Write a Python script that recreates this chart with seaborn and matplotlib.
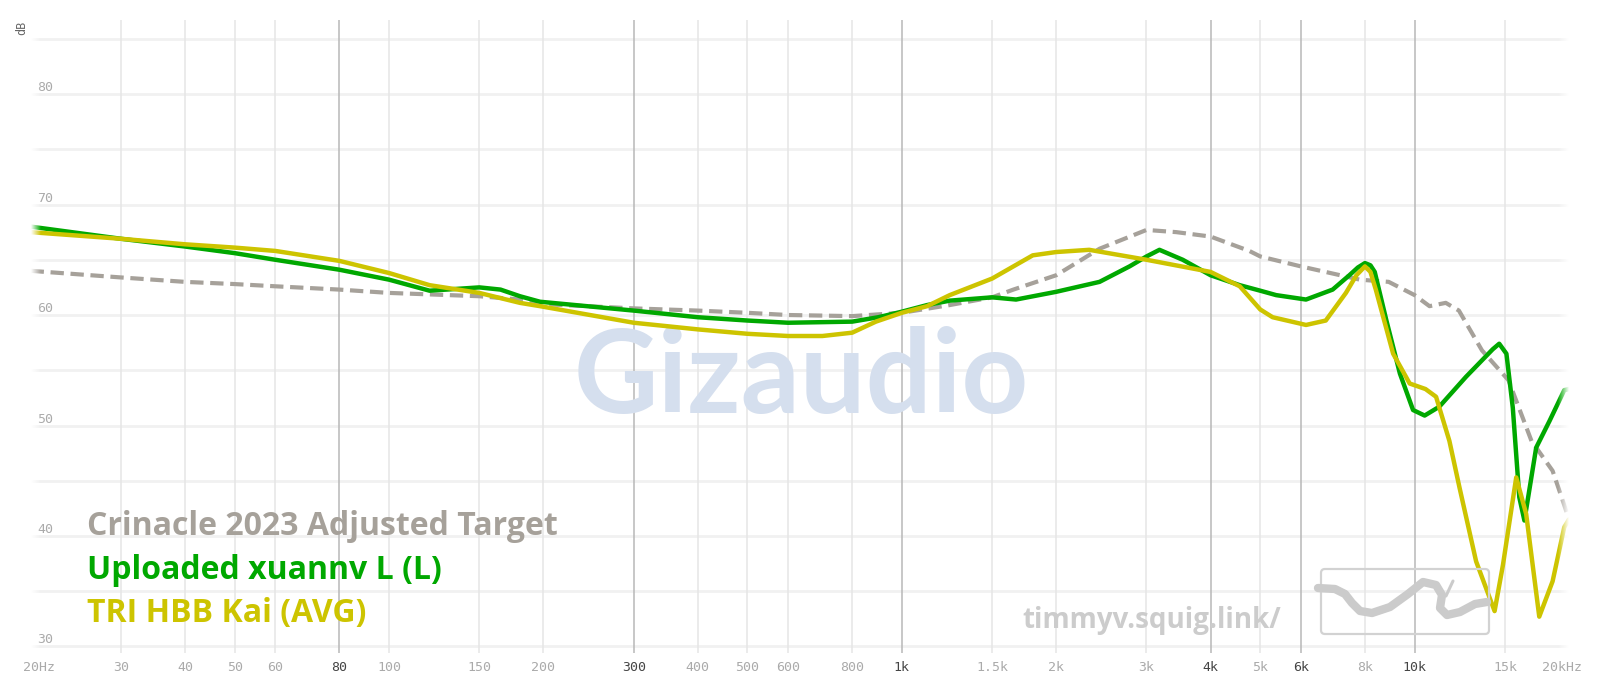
import numpy as np
import matplotlib
matplotlib.use("Agg")
import matplotlib.pyplot as plt
from matplotlib.patches import FancyBboxPatch
from matplotlib.transforms import ScaledTranslation
import seaborn as sns

# target curve (gray dashed)
target_freq = [20, 30, 40, 50, 60, 80, 100, 150, 180, 197, 300, 400, 500, 600, 800, 1000,
               1240, 1500, 1650, 2000, 2430, 3000, 3430, 4000, 4760, 5000, 6000, 7820, 8900,
               10000, 10690, 11500, 12200, 13530, 15240, 16900, 18580, 19350, 20000]
target_db = [64.0, 63.4, 63.0, 62.8, 62.6, 62.3, 62.0, 61.7, 61.4, 61.0, 60.6, 60.4, 60.2, 60.0, 59.9, 60.2,
             60.9, 61.6, 62.3, 63.6, 66.0, 67.7, 67.5, 67.1, 65.8, 65.3, 64.4, 63.2, 63.0,
             61.8, 60.8, 61.1, 60.4, 56.8, 54.1, 48.6, 45.9, 43.5, 41.5]

# Uploaded xuannv L (L)
xuannv_freq = [20, 30, 40, 50, 60, 80, 100, 120, 150, 165, 180, 197, 300, 400, 500, 600, 800, 900,
               1000, 1120, 1240, 1500, 1670, 2000, 2430, 2780, 3000, 3180, 3530, 4000, 4560, 5000,
               5370, 6140, 6920, 7460, 7750, 8000, 8200, 8360, 8810, 9360, 9930, 10460, 11170, 12590,
               14200, 14620, 15100, 15540, 16000, 16370, 17260, 18320, 19580, 20000]
xuannv_db = [68.0, 66.9, 66.2, 65.6, 65.0, 64.1, 63.2, 62.2, 62.5, 62.3, 61.7, 61.2, 60.4, 59.8, 59.5, 59.3, 59.4, 59.8,
             60.3, 60.9, 61.3, 61.6, 61.4, 62.1, 63.0, 64.4, 65.3, 65.9, 65.0, 63.6, 62.7, 62.2,
             61.8, 61.4, 62.3, 63.6, 64.3, 64.7, 64.5, 63.9, 59.5, 54.7, 51.4, 50.9, 51.7, 54.4,
             56.9, 57.4, 56.5, 51.6, 43.5, 41.4, 48.0, 50.4, 53.2, 53.3]

# TRI HBB Kai (AVG)
kai_freq = [20, 30, 40, 50, 60, 80, 100, 120, 150, 180, 197, 300, 400, 500, 600, 700, 800, 890,
            1000, 1120, 1240, 1500, 1800, 2000, 2320, 3000, 4000, 4560, 5000, 5285, 6140, 6710,
            7345, 7700, 8000, 8200, 8400, 9080, 9780, 10500, 11010, 11690, 12230, 13180, 14320, 14870,
            15780, 16500, 17500, 18580, 19580, 20000]
kai_db = [67.5, 66.9, 66.4, 66.1, 65.8, 64.9, 63.8, 62.7, 62.0, 61.1, 60.8, 59.3, 58.7, 58.3, 58.1, 58.1, 58.4, 59.4,
          60.2, 60.8, 61.8, 63.3, 65.4, 65.7, 65.9, 65.0, 63.9, 62.6, 60.5, 59.8, 59.1, 59.5,
          62.0, 63.6, 64.4, 63.9, 62.3, 56.5, 53.8, 53.3, 52.6, 48.6, 44.4, 37.7, 33.2, 37.4,
          45.3, 42.0, 32.7, 35.9, 40.8, 41.5]

x_ticks = [20, 30, 40, 50, 60, 80, 100, 150, 200, 300, 400, 500, 600, 800, 1000,
           1500, 2000, 3000, 4000, 5000, 6000, 8000, 10000, 15000, 20000]
x_labels = ["20Hz", "30", "40", "50", "60", "80", "100", "150", "200", "300", "400", "500", "600", "800", "1k",
            "1.5k", "2k", "3k", "4k", "5k", "6k", "8k", "10k", "15k", "20kHz"]
dark_ticks = [80, 300, 1000, 4000, 6000, 10000]
y_labels = [30, 40, 50, 60, 70, 80]
y_grid = [30, 35, 40, 45, 50, 55, 60, 65, 70, 75, 80, 85]

names = ["Crinacle 2023 Adjusted Target", "Uploaded xuannv L (L)", "TRI HBB Kai (AVG)"]
colors = ["#a6a19a", "#00a800", "#cdc400"]

sns.set_style("white")
plt.rcParams["font.family"] = ["Open Sans", "DejaVu Sans"]

fig = plt.figure(figsize=(16, 6.92), dpi=100)
ax = fig.add_axes([30.6 / 1600, 39 / 692, 1538.4 / 1600, 633 / 692])
ax.set_xscale("log")
for s in ax.spines.values():
    s.set_visible(False)

for g in y_grid:
    ax.axhline(g, color="#f1f1f1", lw=2.0, zorder=0)
for f in x_ticks[1:-1]:
    dark = f in dark_ticks
    ax.axvline(f, color="#b8b8b8" if dark else "#e6e6e6", lw=1.1, zorder=0.2)

sns.lineplot(x=target_freq, y=target_db, ax=ax, color=colors[0], lw=3.0, estimator=None, zorder=2)
ax.lines[-1].set_dashes((3.2, 1.6))
ax.lines[-1].set_dash_capstyle("butt")
sns.lineplot(x=xuannv_freq, y=xuannv_db, ax=ax, color=colors[1], lw=3.2, estimator=None, zorder=3)
sns.lineplot(x=kai_freq, y=kai_db, ax=ax, color=colors[2], lw=3.2, estimator=None, zorder=4)

ax.set_xticks(x_ticks)
ax.set_xticklabels(x_labels, family="DejaVu Sans Mono", fontsize=9.5)
ax.minorticks_off()
ax.tick_params(axis="x", length=0, pad=6)
for lab, f in zip(ax.get_xticklabels(), x_ticks):
    lab.set_color("#444444" if f in dark_ticks else "#aaaaaa")
first, last = ax.get_xticklabels()[0], ax.get_xticklabels()[-1]
first.set_horizontalalignment("left")
first.set_transform(first.get_transform() + ScaledTranslation(-0.08, 0, fig.dpi_scale_trans))
last.set_horizontalalignment("right")
last.set_transform(last.get_transform() + ScaledTranslation(0.13, 0, fig.dpi_scale_trans))
ax.set_yticks([])
ax.set_xlabel("")
ax.set_ylabel("")
for v in y_labels:
    ax.text(0.0042, v, str(v), transform=ax.get_yaxis_transform(), family="DejaVu Sans Mono",
            fontsize=9.5, color="#aaaaaa", va="bottom", ha="left", zorder=1)

# fade at both ends
fade = np.ones((1, 64, 4))
fade[0, :, 3] = np.linspace(1, 0, 64)
ax.imshow(fade, extent=(0, 0.006, 0, 1), transform=ax.transAxes, aspect="auto", zorder=6)
ax.imshow(fade[:, ::-1], extent=(0.993, 1.0, 0, 1), transform=ax.transAxes, aspect="auto", zorder=6)
ax.set_xlim(20, 20000)
ax.set_ylim(29.41, 86.70)

# watermark
ax.text(0.5008, 0.3791, "Gizaudio", transform=ax.transAxes, ha="center", va="baseline",
        family=["Lato", "DejaVu Sans"], fontweight="bold", fontsize=84, color="#d5dfee", zorder=0.5)

fig.text(22 / 1600, 1 - 28 / 692, "dB", rotation=90, family="DejaVu Sans Mono", fontsize=8.5,
         color="#666666", ha="center", va="center")

for name, c, yb in zip(names, colors, [535, 579, 622]):
    fig.text(87 / 1600, 1 - yb / 692, name, color=c, fontsize=23, fontweight="bold", va="baseline", ha="left")

fig.text(1022 / 1600, 1 - 628 / 692, "timmyv.squig.link/", color="#cccccc", fontsize=20,
         fontweight="bold", va="baseline", ha="left")

# squig logo
tr = fig.dpi_scale_trans
fig.patches.append(FancyBboxPatch((13.21, 0.58), 1.68, 0.65, boxstyle="round,pad=0,rounding_size=0.04",
                                  transform=tr, fill=False, ec="#d2d2d2", lw=1.6))
sq_x = [1318, 1335, 1345, 1352, 1360, 1372, 1390, 1408, 1423, 1436, 1442, 1440, 1447, 1460, 1475, 1487]
sq_y = [588, 589, 594, 603, 611, 613, 607, 594, 582, 585, 595, 608, 615, 612, 604, 602]
fig.lines.append(plt.Line2D(np.array(sq_x) / 100, (692 - np.array(sq_y)) / 100, transform=tr,
                            color="#cbcbcb", lw=6, solid_capstyle="round", solid_joinstyle="round"))
fig.lines.append(plt.Line2D(np.array([1453, 1446]) / 100, (692 - np.array([581, 596])) / 100, transform=tr,
                            color="#cbcbcb", lw=2.2, solid_capstyle="round"))

fig.savefig("out.png", dpi=100)
